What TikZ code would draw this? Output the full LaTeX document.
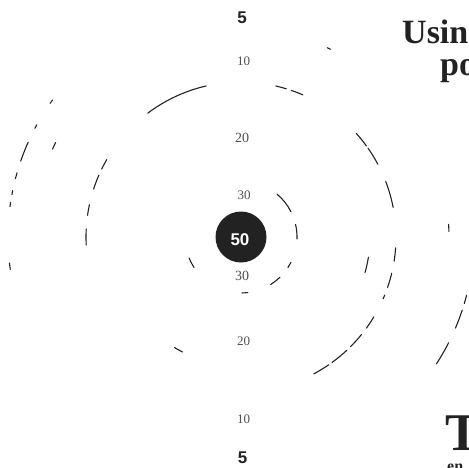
\documentclass[tikz,border=0pt]{standalone}
\usepackage{fontspec}
\newfontfamily\numsans{Liberation Sans}
\newfontfamily\numserif{Liberation Serif}
\definecolor{ink}{HTML}{222222}
\tikzset{
  ringline/.style={line width=1.1pt, draw=ink, line cap=round},
  boldnum/.style={anchor=base, inner sep=0pt, text=ink, font=\numsans\bfseries\fontsize{17}{17}\selectfont},
  faintnum/.style={anchor=base, inner sep=0pt, text=ink!80, font=\numserif\fontsize{13}{13}\selectfont},
  headtext/.style={anchor=base west, inner sep=0pt, text=ink},
}
\begin{document}
\begin{tikzpicture}[x=1pt, y=-1pt]
\useasboundingbox (0,0) rectangle (469,467);
\clip (0,0) rectangle (469,467);
\coordinate (C) at (241,237);
% ring arcs: radius / start / end (image angles, clockwise)
\foreach \r/\a/\b in {
  56/-50/-27, 56/-13/2, 56/27/33, 56/46/58, 56/83/89, 56/147/158,
  129/9/16, 129/117/121,
  155/-127/-103, 155/-77/-73, 155/-71/-66.5, 155/-42/-36, 155/-35/-28,
  155/-21/-11, 155/4/9, 155/13.5/19, 155/22/23.5,
  155/31/36, 155/39/45, 155/47/54, 155/55.5/62,
  155/206/210, 155/198/203.5, 155/188/192, 155/177/183,
  208/-65.5/-64.5, 208/205/207, 208/-3.5/-1.5,
  233/215/216, 233/207.8/208.8, 233/199/204, 233/194.5/196, 233/190.5/191.5,
  233/187.5/188.5, 233/172/173.6, 233/14.5/16.6, 233/18.3/23, 233/27/33}
  {\draw[ringline] ([shift={(\a:\r)}]C) arc[start angle=\a, end angle=\b, radius=\r];}
% bull
\node (bull) [circle, fill=ink, minimum size=51pt, inner sep=0pt] at (C) {};
\node (n50) [boldnum, text=white] at (240,245) {50};
% ring labels
\node (t5)  [boldnum] at (242,23) {5};
\node (t10) [faintnum] at (243.5,65) {10};
\node (t20) [faintnum, font=\numserif\fontsize{14}{14}\selectfont] at (242,142) {20};
\node (t30) [faintnum] at (244,199) {30};
\node (b30) [faintnum, font=\numserif\fontsize{14}{14}\selectfont] at (242,280) {30};
\node (b20) [faintnum] at (243.5,345) {20};
\node (b10) [faintnum] at (243.5,423) {10};
\node (b5)  [boldnum] at (242.5,463) {5};
% cropped page text at right
\node (usin) [headtext, font=\numserif\bfseries\fontsize{34}{34}\selectfont] at (402,43) {Usin};
\node (po) [headtext, font=\numserif\bfseries\fontsize{34}{34}\selectfont] at (440,75) {po};
\node (bigT) [headtext, font=\numserif\bfseries\fontsize{53}{53}\selectfont] at (445,450) {T};
\node (en) [headtext, font=\numserif\bfseries\fontsize{16}{16}\selectfont] at (447,471) {en};
\end{tikzpicture}
\end{document}
